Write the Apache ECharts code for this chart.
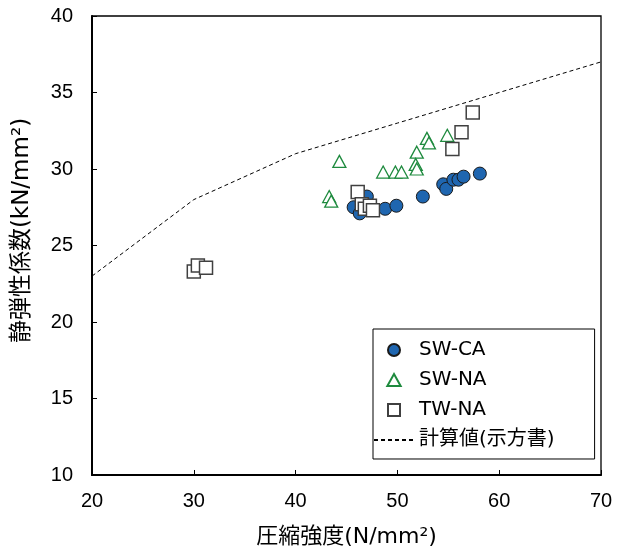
<!DOCTYPE html>
<html>
<head>
<meta charset="utf-8">
<script src="https://cdn.jsdelivr.net/npm/echarts@6/dist/echarts.min.js"></script>
<style>
html,body{margin:0;padding:0;background:#fff;}
#chart{width:621px;height:553px;}
</style>
</head>
<body>
<div id="chart"></div>
<script>
// Data
const swCA = [[45.7,27.5],[46.3,27.1],[47.0,28.2],[46.8,27.5],[48.8,27.4],[49.9,27.6],[52.5,28.2],[54.5,29.0],[54.8,28.7],[55.5,29.3],[56.0,29.3],[56.5,29.5],[58.1,29.7]];
const swNA = [[43.3,28.2],[43.5,27.9],[44.3,30.5],[48.6,29.8],[49.8,29.8],[50.4,29.8],[51.9,31.1],[51.8,30.3],[51.9,30.0],[52.9,32.0],[53.1,31.7],[54.9,32.2]];
const twNA = [[30.0,23.3],[30.4,23.7],[31.2,23.55],[46.1,28.5],[46.5,27.7],[46.8,27.4],[47.3,27.6],[47.6,27.3],[55.4,31.3],[56.3,32.4],[57.4,33.7]];
const calc = [[20,23],[30,28],[40,31],[50,33],[60,35],[70,37]];
const names = ['SW-CA','SW-NA','TW-NA','計算値(示方書)'];
const xTitle = '圧縮強度(N/mm²)';
const yTitle = '静弾性係数(kN/mm²)';

const latin = "'Liberation Sans', Arial, 'Noto Sans CJK JP', sans-serif";
const wide = "'DejaVu Sans', 'Noto Sans CJK JP', sans-serif";

const chart = echarts.init(document.getElementById('chart'), null, {renderer:'canvas'});
chart.setOption({
  animation:false,
  backgroundColor:'#fff',
  grid:{left:92,right:20,top:16,bottom:75,show:true,borderColor:'#000',borderWidth:1.3,backgroundColor:'transparent'},
  xAxis:{
    type:'value',min:20,max:70,interval:10,
    name:xTitle,nameLocation:'middle',nameGap:51,
    nameTextStyle:{fontSize:22,color:'#000',fontFamily:wide},
    axisLine:{show:true,onZero:false,lineStyle:{color:'#000',width:2}},
    axisTick:{show:true,inside:true,length:5,lineStyle:{color:'#000',width:1}},
    axisLabel:{fontSize:20,color:'#000',margin:16,fontFamily:latin},
    splitLine:{show:false}
  },
  yAxis:{
    type:'value',min:10,max:40,interval:5,
    name:yTitle,nameLocation:'middle',nameGap:58,nameRotate:90,
    nameTextStyle:{fontSize:23,color:'#000',fontFamily:wide,padding:[0,0,0,30]},
    axisLine:{show:true,onZero:false,lineStyle:{color:'#000',width:2}},
    axisTick:{show:true,inside:true,length:5,lineStyle:{color:'#000',width:1}},
    axisLabel:{fontSize:20,color:'#000',margin:19,fontFamily:latin},
    splitLine:{show:false}
  },
  legend:{
    orient:'vertical',left:373,top:329,
    padding:[11,40,9,0],
    itemWidth:40,itemHeight:12,itemGap:10,
    borderColor:'#000',borderWidth:1,backgroundColor:'#fff',
    textStyle:{fontSize:20,color:'#000',fontFamily:wide},
    data:[
      {name:names[0],icon:'circle'},
      {name:names[1],icon:'path://M5,0L10,9L0,9Z'},
      {name:names[2],icon:'path://M0,0L10,0L10,10L0,10Z'},
      {name:names[3],itemStyle:{opacity:0}}
    ]
  },
  series:[
    {name:names[0],type:'scatter',data:swCA,symbol:'circle',symbolSize:13,
      itemStyle:{color:'#1f66b0',borderColor:'#1a1a1a',borderWidth:1,opacity:1}},
    {name:names[1],type:'scatter',data:swNA,symbol:'triangle',symbolSize:[13,12],
      itemStyle:{color:'#fff',borderColor:'#1e8a3e',borderWidth:1.3,opacity:1}},
    {name:names[2],type:'scatter',data:twNA,symbol:'rect',symbolSize:13,
      itemStyle:{color:'#fff',borderColor:'#404040',borderWidth:1.5,opacity:1}},
    {name:names[3],type:'line',data:calc,symbol:'none',showSymbol:false,
      lineStyle:{color:'#000',width:1,type:[4,3]},itemStyle:{color:'#000'}}
  ]
});
</script>
</body>
</html>
